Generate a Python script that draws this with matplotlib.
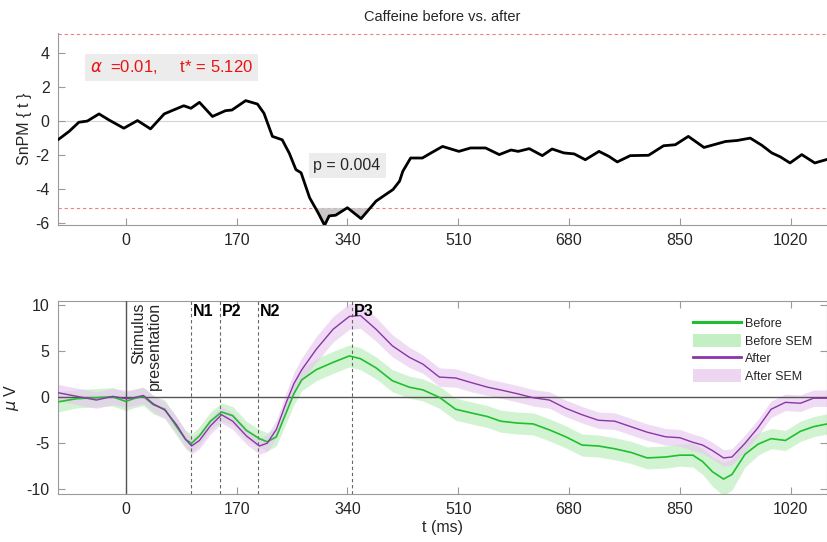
import numpy as np
import matplotlib
matplotlib.use("Agg")
import matplotlib.pyplot as plt
from matplotlib.lines import Line2D
from matplotlib.patches import Patch

# ---------------- data ----------------
# SnPM{t} trajectory (top panel)
t_snpm = [-104, -87, -72, -59, -41, -26, -3, 18, 38, 59, 77, 89, 100, 113, 133, 153,
          163, 184, 202, 212, 225, 240, 251, 261, 269, 282, 295, 305, 312, 322, 340,
          361, 384, 410, 420, 425, 437, 455, 468, 486, 511, 529, 552, 573, 591, 602,
          619, 639, 654, 672, 688, 705, 726, 741, 754, 774, 802, 825, 843, 863, 887,
          920, 938, 958, 976, 991, 1004, 1019, 1037, 1057, 1076]
snpm_t = [-1.1, -0.61, -0.07, 0.0, 0.42, 0.07, -0.42, 0.03, -0.46, 0.42, 0.71, 0.9,
          0.75, 1.1, 0.27, 0.61, 0.65, 1.2, 1.0, 0.46, -0.9, -1.1, -1.9, -2.85, -3.04,
          -4.5, -5.38, -6.12, -5.57, -5.53, -5.09, -5.73, -4.7, -4.02, -3.53, -2.95,
          -2.17, -2.17, -1.88, -1.49, -1.78, -1.58, -1.58, -1.97, -1.7, -1.78, -1.62,
          -2.03, -1.64, -1.87, -1.93, -2.27, -1.78, -2.07, -2.4, -2.03, -2.01, -1.45,
          -1.39, -0.9, -1.55, -1.2, -1.14, -1.0, -1.43, -1.87, -2.1, -2.46, -1.97,
          -2.46, -2.25]
t_crit = 5.120
alpha_txt = r"$\alpha$  =0.01,     t* = 5.120"
p_txt = "p = 0.004"

# ERP waveforms (bottom panel)
t_erp = [-104, -75, -45, -20, 0, 12, 27, 42, 60, 78, 92, 101, 113, 130, 147, 164, 185,
         205, 217, 231, 246, 258, 270, 292, 318, 343, 360, 384, 409, 435, 456, 481,
         506, 530, 555, 575, 600, 625, 650, 675, 700, 725, 750, 775, 800, 828, 850,
         870, 885, 900, 917, 930, 950, 970, 990, 1012, 1035, 1055, 1076]
before = [-0.5, -0.15, -0.05, 0.05, -0.45, -0.15, 0.1, -0.8, -1.3, -3.2, -4.6, -5.0,
          -4.2, -2.6, -1.6, -2.0, -3.6, -4.5, -4.85, -4.3, -1.7, 0.4, 1.9, 3.0, 3.8,
          4.5, 4.2, 3.2, 1.8, 1.1, 0.8, 0.0, -1.3, -1.7, -2.1, -2.6, -2.8, -2.9, -3.55,
          -4.3, -5.2, -5.3, -5.6, -6.0, -6.6, -6.5, -6.3, -6.3, -7.0, -8.1, -8.9, -8.4,
          -6.2, -5.1, -4.5, -4.7, -3.7, -3.2, -2.9]
before_sem = [1.1, 1.0, 1.0, 1.0, 1.0, 1.0, 1.0, 1.0, 1.0, 1.0, 1.0, 1.0, 1.0, 1.0,
              1.0, 1.0, 1.0, 1.0, 1.0, 1.0, 1.1, 1.2, 1.2, 1.2, 1.2, 1.2, 1.2, 1.2,
              1.2, 1.2, 1.2, 1.2, 1.2, 1.2, 1.2, 1.2, 1.2, 1.2, 1.2, 1.2, 1.2, 1.2,
              1.2, 1.2, 1.2, 1.2, 1.2, 1.3, 1.4, 1.6, 1.8, 1.7, 1.4, 1.2, 1.1, 1.1,
              1.1, 1.1, 1.1]
after = [0.5, 0.1, -0.3, 0.1, -0.15, -0.05, 0.2, -0.7, -1.4, -3.0, -4.6, -5.3, -4.7,
         -3.1, -1.9, -2.6, -4.2, -5.3, -5.0, -3.5, -0.6, 1.5, 3.0, 5.2, 7.4, 8.8, 8.9,
         7.4, 5.6, 4.35, 3.6, 2.2, 2.1, 1.6, 1.1, 0.8, 0.4, -0.05, -0.3, -1.2, -1.9,
         -2.5, -2.6, -3.2, -3.8, -4.3, -4.4, -4.9, -5.2, -5.8, -6.6, -6.5, -5.0, -3.3,
         -1.3, -0.55, -0.65, -0.1, -0.1]
after_sem = [0.9, 0.9, 0.9, 0.9, 0.9, 0.9, 0.9, 0.9, 0.9, 0.9, 0.9, 0.9, 0.9, 0.9,
             0.9, 0.9, 0.9, 0.9, 0.9, 1.0, 1.1, 1.2, 1.3, 1.4, 1.4, 1.4, 1.4, 1.3,
             1.2, 1.1, 1.0, 1.0, 1.0, 1.0, 0.9, 0.9, 0.9, 0.9, 0.9, 0.9, 0.9, 0.9,
             0.9, 0.9, 0.9, 0.9, 0.9, 0.9, 0.9, 0.9, 0.9, 0.9, 0.9, 0.9, 0.9, 0.9,
             0.9, 0.9, 0.9]
components = ["N1", "P2", "N2", "P3"]
comp_t = [100, 144, 203, 347]
xticks = [0, 170, 340, 510, 680, 850, 1020]
xlim = (-104, 1076)

# ---------------- style ----------------
plt.rcParams['font.family'] = ['Liberation Sans', 'DejaVu Sans']
axcol = '#9a9a9a'
txtcol = '#262626'
green = '#1fbf2f'
purple = '#8a35a8'

fig = plt.figure(figsize=(8.28, 5.42), dpi=100)
ax1 = fig.add_axes([0.070, 0.585, 0.929, 0.355])
ax2 = fig.add_axes([0.070, 0.089, 0.929, 0.356])

# ----- top panel -----
t1 = np.array(t_snpm, float)
y1 = np.array(snpm_t, float)
ax1.axhline(0, color='#d4d4d4', lw=0.8, zorder=1)
ax1.axhline(t_crit, color='#f08080', lw=0.8, ls=(0, (3, 2.5)), zorder=1)
ax1.axhline(-t_crit, color='#f08080', lw=0.8, ls=(0, (3, 2.5)), zorder=1)
ax1.fill_between(t1, y1, -t_crit, where=y1 < -t_crit, interpolate=True,
                 color='#c8c8c8', lw=0, zorder=2)
ax1.plot(t1, y1, color='black', lw=2.0, zorder=3, solid_joinstyle='round',
         solid_capstyle='round')
ax1.set_xlim(*xlim)
ax1.set_ylim(-6.1, 5.2)
ax1.set_xticks(xticks)
ax1.set_yticks([-6, -4, -2, 0, 2, 4])
ax1.set_yticklabels(['-6', '-4', '-2', '0', '2', '4'])
ax1.spines['top'].set_visible(False)
ax1.spines['right'].set_visible(False)
for s in ['left', 'bottom']:
    ax1.spines[s].set_color(axcol)
ax1.tick_params(direction='in', colors=axcol, labelcolor=txtcol, labelsize=11.5,
                length=5, pad=6)
ax1.set_ylabel('SnPM { t }', fontsize=11.5, color=txtcol, labelpad=2)
ax1.set_title('Caffeine before vs. after', fontsize=10.5, color=txtcol, pad=8)
ax1.text(-55, 3.15, alpha_txt, color='#ee1111', fontsize=12, va='center', ha='left',
         bbox=dict(facecolor='#ececec', edgecolor='none', pad=3.5))
ax1.text(288, -2.6, p_txt, color=txtcol, fontsize=11.5, va='center', ha='left',
         bbox=dict(facecolor='#ececec', edgecolor='none', pad=3.5))

# ----- bottom panel -----
t2 = np.array(t_erp, float)
b = np.array(before, float)
bs = np.array(before_sem, float)
a = np.array(after, float)
as_ = np.array(after_sem, float)
ax2.fill_between(t2, b - bs, b + bs, color='#c4efc4', alpha=0.75, lw=0, zorder=2)
ax2.fill_between(t2, a - as_, a + as_, color='#e9c9f0', alpha=0.65, lw=0, zorder=2)
ax2.plot(t2, b, color=green, lw=1.2, zorder=4, solid_joinstyle='round')
ax2.plot(t2, a, color=purple, lw=1.0, zorder=4, solid_joinstyle='round')
ax2.axhline(0, color='#555555', lw=1.0, zorder=3)
ax2.axvline(0, color='#555555', lw=1.0, zorder=3)
for name, ct in zip(components, comp_t):
    ax2.axvline(ct, color='#666666', lw=0.8, ls=(0, (3, 2.5)), zorder=3)
    ax2.text(ct + 3, 9.3, name, fontsize=11.5, fontweight='bold', color='black',
             ha='left', va='center', zorder=5)
ax2.text(9, 10.35, 'Stimulus\npresentation', rotation=90, fontsize=11.5,
         color=txtcol, ha='left', va='top', linespacing=1.05,
         multialignment='right', zorder=5)
ax2.set_xlim(*xlim)
ax2.set_ylim(-10.5, 10.5)
ax2.set_xticks(xticks)
ax2.set_yticks([-10, -5, 0, 5, 10])
ax2.set_yticklabels(['-10', '-5', '0', '5', '10'])
for s in ax2.spines.values():
    s.set_color(axcol)
ax2.tick_params(direction='in', colors=axcol, labelcolor=txtcol, labelsize=11.5,
                length=5, pad=6, top=True, right=True)
ax2.set_ylabel(r'$\mu$ V', fontsize=11.5, color=txtcol, labelpad=4)
ax2.set_xlabel('t (ms)', fontsize=11.5, color=txtcol, labelpad=2)

handles = [Line2D([], [], color=green, lw=2.2),
           Patch(facecolor='#c4efc4', edgecolor='none'),
           Line2D([], [], color=purple, lw=2.0),
           Patch(facecolor='#eed6f3', edgecolor='none')]
labels = ['Before', 'Before SEM', 'After', 'After SEM']
leg = ax2.legend(handles, labels, loc='upper right', bbox_to_anchor=(0.99, 0.955),
                 frameon=False, fontsize=9, handlelength=3.8, handleheight=1.15,
                 labelspacing=0.32, handletextpad=0.3, borderaxespad=0.2)
for tx in leg.get_texts():
    tx.set_color(txtcol)

fig.savefig('out.png', dpi=100)
